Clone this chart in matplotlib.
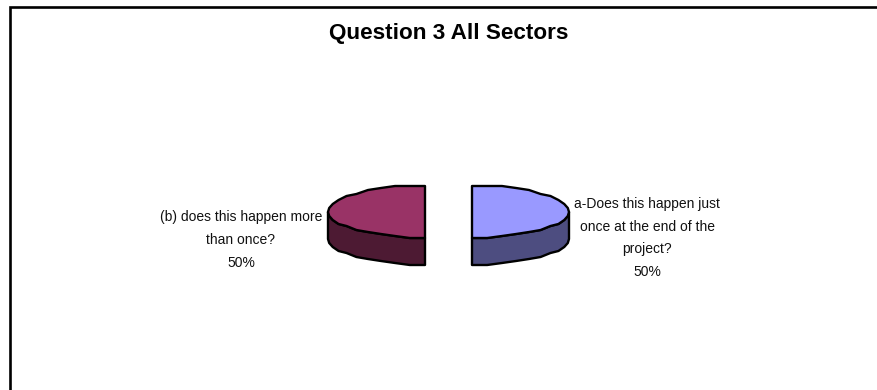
#!/usr/bin/python3

import numpy as np
import matplotlib.pyplot as plt
from matplotlib.patches import Polygon

plt.rcParams['font.family'] = ['Liberation Sans', 'DejaVu Sans']

title = 'Question 3 All Sectors'
labels = ['a-Does this happen just\nonce at the end of the\nproject?\n50%',
          '(b) does this happen more\nthan once?\n50%']
shares = [50, 50]
top_colors = ['#9999ff', '#993366']
side_colors = ['#4d4d80', '#4d1a33']

rx, ry, depth = 97, 26, 27
cy = 211.5
explode = 23.5
mid_x = 448.5

fig = plt.figure(figsize=(8.77, 3.90), dpi=100)
ax = fig.add_axes([0, 0, 1, 1])
ax.set_xlim(0, 877)
ax.set_ylim(390, 0)
ax.axis('off')

# chart frame, runs off the right and bottom of the canvas
ax.plot([10.3, 10.3, 877], [390, 6.8, 6.8], color='k', lw=1.9, solid_joinstyle='miter', solid_capstyle='butt')

ax.text(449, 33.5, title, ha='center', va='center', fontsize=16.2, fontweight='bold')

# slices go clockwise from 12 o'clock; y is snapped to get the slightly stepped edge
start = 0.0
for i, share in enumerate(shares):
  sweep = 360.0 * share / sum(shares)
  ang = np.radians(np.linspace(start, start + sweep, 21))
  mid = np.radians(start + sweep / 2)
  cx = mid_x + explode * np.sign(np.round(np.sin(mid), 6))
  x = cx + rx * np.sin(ang)
  y = np.round((cy - ry * np.cos(ang)) / 2.0) * 2.0

  # rim: only the part of the arc facing the viewer (lower half of the ellipse)
  keep = np.cos(ang) <= 1e-9
  rim_x, rim_y = x[keep], y[keep]
  rim = np.column_stack([np.r_[rim_x, rim_x[::-1]], np.r_[rim_y, rim_y[::-1] + depth]])
  ax.add_patch(Polygon(rim, closed=True, fc=side_colors[i], ec='k', lw=1.7, joinstyle='round'))

  top = np.column_stack([np.r_[cx, x], np.r_[cy, y]])
  ax.add_patch(Polygon(top, closed=True, fc=top_colors[i], ec='k', lw=1.7, joinstyle='round'))
  start += sweep

ax.text(647, 238, labels[0], ha='center', va='center', fontsize=10, linespacing=1.79, color='#111111')
ax.text(241, 240, labels[1], ha='center', va='center', fontsize=10, linespacing=1.79, color='#111111')

fig.savefig('out.png', dpi=100)
plt.close()
